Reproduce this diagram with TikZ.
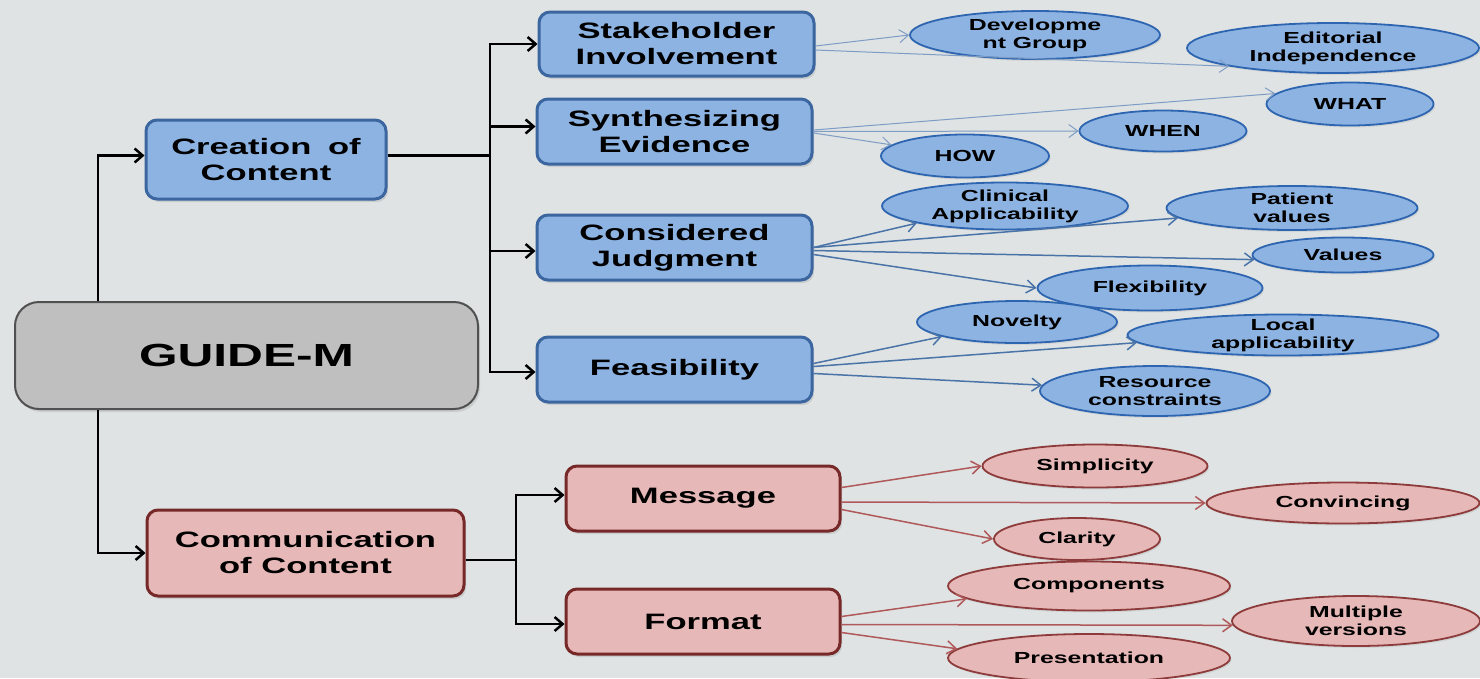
\documentclass[tikz,border=0pt]{standalone}
\usepackage{fontspec}
\newfontfamily\lab{Liberation Sans}[FakeStretch=1.55]
\usetikzlibrary{arrows.meta,shapes.geometric,shadows}
\definecolor{bg}{HTML}{DFE3E4}
\definecolor{bluefill}{HTML}{8DB3E2}
\definecolor{blueedge}{HTML}{3B669F}
\definecolor{blueoval}{HTML}{2E65B0}
\definecolor{bluelink}{HTML}{4A74A8}
\definecolor{paleblue}{HTML}{7E9CC4}
\definecolor{redfill}{HTML}{E6B8B7}
\definecolor{rededge}{HTML}{772828}
\definecolor{redoval}{HTML}{8E3B3B}
\definecolor{redlink}{HTML}{B0595A}
\definecolor{greyfill}{HTML}{BFBFBF}
\definecolor{greyedge}{HTML}{505050}
\begin{document}
\begin{tikzpicture}[x=1pt,y=-1pt,
  box/.style={rectangle, rounded corners=11pt, line width=3pt, inner sep=0pt,
    align=center, font=\lab\bfseries\fontsize{22.3}{26}\selectfont,
    drop shadow={opacity=0.22,shadow xshift=2pt,shadow yshift=-3pt}},
  bluebox/.style={box, draw=blueedge, fill=bluefill},
  redbox/.style={box, draw=rededge, fill=redfill},
  oval/.style={ellipse, inner xsep=-60pt, inner ysep=-30pt, align=center,
    line width=1.8pt, font=\lab\bfseries\fontsize{16}{18}\selectfont,
    drop shadow={opacity=0.15,shadow xshift=1.5pt,shadow yshift=-2pt}},
  blueoval/.style={oval, draw=blueoval, fill=bluefill},
  redoval/.style={oval, draw=redoval, fill=redfill},
  sz/.style 2 args={minimum width=#1pt, minimum height=#2pt},
  tree/.style={line width=2.6pt, draw=black,
    -{Straight Barb[length=8pt,width=14pt,line width=2.5pt]}},
  trunk/.style={line width=2.6pt, draw=black},
  blink/.style={draw=bluelink, line width=1.5pt,
    -{Straight Barb[length=9pt,width=13pt,line width=1.5pt]}},
  plink/.style={draw=paleblue, line width=1pt,
    -{Straight Barb[length=9pt,width=13pt,line width=1pt]}},
  rlink/.style={draw=redlink, line width=1.5pt,
    -{Straight Barb[length=9pt,width=13pt,line width=1.5pt]}}
]
\useasboundingbox (0,0) rectangle (1480,678);
\fill[bg] (0,0) rectangle (1480,678);
\clip (0,0) rectangle (1480,678);

% main boxes
\node[box, draw=greyedge, fill=greyfill, line width=2pt, rounded corners=24pt,
  minimum width=463pt, minimum height=107pt,
  font=\lab\bfseries\fontsize{32}{36}\selectfont]
  (guide) at (246.5,355.5) {GUIDE-M};
\node[bluebox, sz={240}{79}] (creation) at (266,159.5) {Creation\hspace{7pt} of\\Content};
\node[redbox, sz={317}{86}] (comm) at (305.5,553) {Communication\\of Content};

\node[bluebox, sz={275}{64}] (stake) at (676.5,44) {Stakeholder\\Involvement};
\node[bluebox, sz={275}{65}] (synth) at (674.5,131.5) {Synthesizing\\Evidence};
\node[bluebox, sz={275}{65}] (consid) at (674.5,247.5) {Considered\\Judgment};
\node[bluebox, sz={275}{65}] (feas) at (674.5,369.5) {Feasibility};
\node[redbox, sz={274}{65}] (message) at (703,498.5) {Message};
\node[redbox, sz={274}{65}] (format) at (703,621.5) {Format};

% bus coordinates (x positions of the vertical bars)
\coordinate (mainbus) at (98,0);
\coordinate (bluebus) at (490,0);
\coordinate (redbus) at (516,0);

% tree connectors (yshift is measured upwards on the page)
\draw[tree] (guide.north -| mainbus) |- ([yshift=4pt]creation.west);
\draw[tree] (guide.south -| mainbus) |- (comm.west);
\draw[trunk] ([yshift=4pt]creation.east) -- ([yshift=4pt]creation.east -| bluebus);
\draw[tree] ([yshift=4pt]creation.east -| bluebus) |- (stake.west);
\draw[tree] ([yshift=4pt]creation.east -| bluebus) |- ([yshift=5pt]synth.west);
\draw[tree] ([yshift=4pt]creation.east -| bluebus) |- ([yshift=-3.5pt]consid.west);
\draw[tree] ([yshift=4pt]creation.east -| bluebus) |- ([yshift=-2.5pt]feas.west);
\draw[trunk] ([yshift=-7pt]comm.east) -- ([yshift=-7pt]comm.east -| redbus);
\draw[tree] ([yshift=-7pt]comm.east -| redbus) |- ([yshift=3.5pt]message.west);
\draw[tree] ([yshift=-7pt]comm.east -| redbus) |- ([yshift=-2.5pt]format.west);

% blue ovals
\node[blueoval, sz={250}{48}] (dev) at (1035,35) {Developme\\nt Group};
\node[blueoval, sz={292}{50}] (edit) at (1333,48) {Editorial\\Independence};
\node[blueoval, sz={167}{43}] (what) at (1350,104) {WHAT};
\node[blueoval, sz={167}{41}] (when) at (1163,131) {WHEN};
\node[blueoval, sz={168}{43}] (how) at (965,156) {HOW};
\node[blueoval, sz={246}{47}] (clin) at (1005,206) {Clinical\\Applicability};
\node[blueoval, sz={251}{44}] (pv) at (1292,208) {Patient\\values};
\node[blueoval, sz={181}{35}] (val) at (1343,255) {Values};
\node[blueoval, sz={225}{45}] (flex) at (1150,288) {Flexibility};
\node[blueoval, sz={200}{42}] (nov) at (1017,322) {Novelty};
\node[blueoval, sz={311}{41}] (loc) at (1283,335) {Local\\applicability};
\node[blueoval, sz={230}{50}] (res) at (1155,391) {Resource\\constraints};

% red ovals
\node[redoval, sz={225}{43}] (simp) at (1095,466) {Simplicity};
\node[redoval, sz={273}{41}] (conv) at (1343,503) {Convincing};
\node[redoval, sz={166}{42}] (clar) at (1077,539) {Clarity};
\node[redoval, sz={282}{49}] (comp) at (1089,586) {Components};
\node[redoval, sz={248}{50}] (mult) at (1356,621) {Multiple\\versions};
\node[redoval, sz={282}{48}] (pres) at (1089,658) {Presentation};

% links to the ovals
\draw[plink] ([yshift=-2pt]stake.east) -- (dev.west);
\draw[plink] ([yshift=-6pt]stake.east) -- (edit.190);
\draw[plink] ([yshift=1.5pt]synth.east) -- (what.172);
\draw[plink] (synth.east) -- (when.west);
\draw[plink] ([yshift=-1.5pt]synth.east) -- (how);
\draw[blink] (consid.east) -- (clin.191);
\draw[blink] (consid.east) -- (pv.185);
\draw[blink] ([yshift=-3pt]consid.east) -- (val.183);
\draw[blink] ([yshift=-7pt]consid.east) -- (flex.west);
\draw[blink] ([yshift=6pt]feas.east) -- (nov.191);
\draw[blink] ([yshift=3pt]feas.east) -- (loc.183);
\draw[blink] ([yshift=-4pt]feas.east) -- (res);
\draw[rlink] ([yshift=11pt]message.east) -- (simp.west);
\draw[rlink] ([yshift=-3.5pt]message.east) -- (conv.west);
\draw[rlink] ([yshift=-11pt]message.east) -- (clar.west);
\draw[rlink] ([yshift=5pt]format.east) -- (comp.186);
\draw[rlink] ([yshift=-3pt]format.east) -- (mult.182);
\draw[rlink] ([yshift=-11pt]format.east) -- (pres.176);
\end{tikzpicture}
\end{document}
